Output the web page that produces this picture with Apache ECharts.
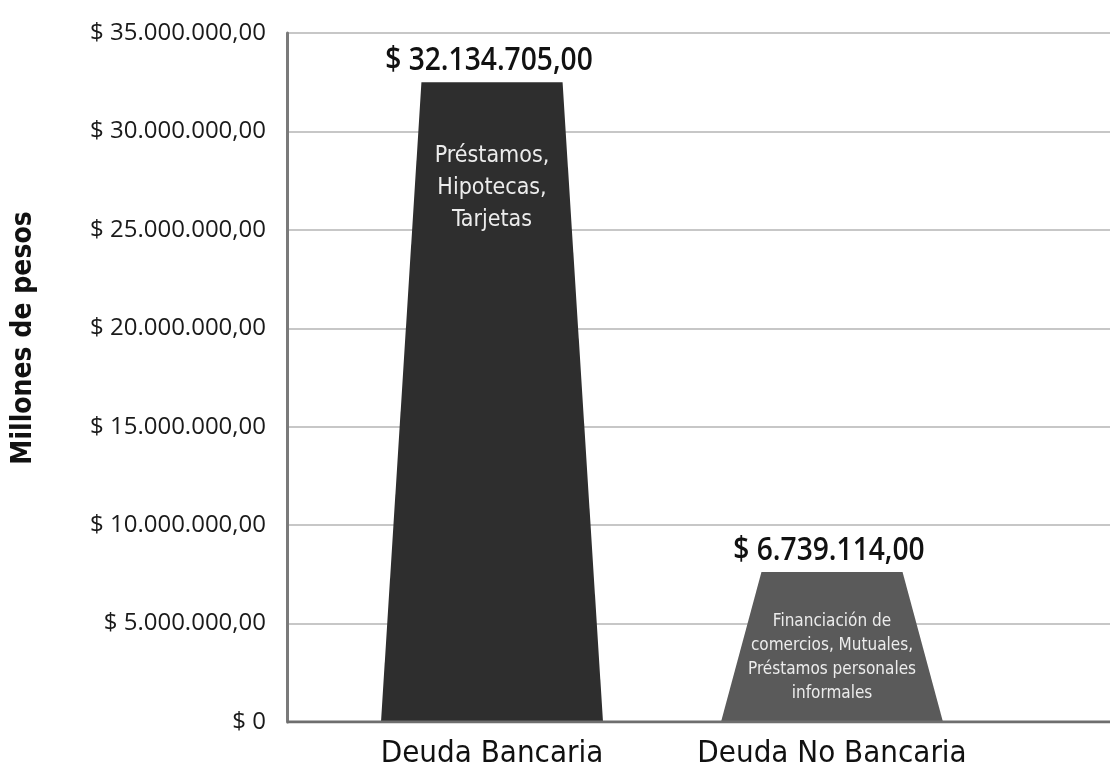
<!DOCTYPE html>
<html>
<head>
<meta charset="utf-8">
<script src="https://cdn.jsdelivr.net/npm/echarts@6/dist/echarts.min.js"></script>
<style>
  html, body { margin: 0; padding: 0; background: #fff; }
  #chart { width: 1110px; height: 774px; }
</style>
</head>
<body>
<div id="chart"></div>
<script>
// datos
const categories = ['Deuda Bancaria', 'Deuda No Bancaria'];
const barHeights = [32500000, 7620000];        // altura dibujada de cada trapecio
const statedAmounts = [32134705, 6739114];     // montos rotulados sobre cada barra
const descriptions = [
    'Préstamos,\nHipotecas,\nTarjetas',
    'Financiación de\ncomercios, Mutuales,\nPréstamos personales\ninformales'
];
const yTicks = [0, 5000000, 10000000, 15000000, 20000000, 25000000, 30000000, 35000000];
const yTitle = 'Millones de pesos';

const narrow = '"DejaVu Sans Condensed", "Open Sans", sans-serif';
const barColors = ['#2e2e2e', '#5a5a5a'];
const descFont = [
    { size: 23, lineHeight: 32, offset: 58 },
    { size: 17, lineHeight: 24, offset: 38 }
];

function money(n) {
    let s = Math.round(n).toString().replace(/\B(?=(\d{3})+(?!\d))/g, '.');
    return '$ ' + s + ',00';
}

let chart = echarts.init(document.getElementById('chart'));

let yBase = {
    min: 0,
    max: 35000000,
    interval: 5000000,
    type: 'value'
};

let option = {
    animation: false,
    grid: [
        { left: 287, right: 0, top: 33, bottom: 52 },
        { left: 322, right: 108, top: 33, bottom: 52 }
    ],
    graphic: [
        {
            type: 'text',
            x: 24,
            y: 338,
            rotation: Math.PI / 2,
            style: {
                text: yTitle,
                align: 'center',
                verticalAlign: 'middle',
                fill: '#111',
                fontFamily: narrow,
                fontWeight: 'bold',
                fontSize: 28
            }
        }
    ],
    xAxis: [
        {
            gridIndex: 0,
            type: 'value',
            min: 0,
            max: 1,
            axisLine: { show: false },
            axisTick: { show: false },
            axisLabel: { show: false },
            splitLine: { show: false }
        },
        {
            gridIndex: 1,
            type: 'category',
            data: categories,
            axisLine: { show: false },
            axisTick: { show: false },
            axisLabel: {
                interval: 0,
                margin: 16,
                color: '#111',
                fontFamily: narrow,
                fontSize: 31
            }
        }
    ],
    yAxis: [
        {
            ...yBase,
            gridIndex: 0,
            axisLine: { show: true, lineStyle: { color: '#7a7a7a', width: 3 } },
            axisTick: { show: false },
            splitLine: { show: true, lineStyle: { color: '#b4b4b4', width: 1.5 } },
            axisLabel: {
                margin: 21,
                color: '#1a1a1a',
                fontFamily: '"Open Sans", sans-serif',
                fontSize: 24,
                formatter: function (value) {
                    if (yTicks.indexOf(value) < 0) return '';
                    return value === 0 ? '$ 0' : money(value);
                }
            }
        },
        {
            ...yBase,
            gridIndex: 1,
            show: false
        }
    ],
    series: [
        {
            // linea base
            type: 'line',
            xAxisIndex: 0,
            yAxisIndex: 0,
            data: [[0, 0], [1, 0]],
            symbol: 'none',
            lineStyle: { color: '#6e6e6e', width: 3 },
            silent: true
        },
        {
            type: 'custom',
            xAxisIndex: 1,
            yAxisIndex: 1,
            data: categories.map((c, i) => [i, barHeights[i]]),
            renderItem: function (params, api) {
                let idx = api.value(0);
                let top = api.coord([idx, api.value(1)]);
                let base = api.coord([idx, 0]);
                let band = api.size([1, 0])[0];
                let tw = band * 0.415 / 2;
                let bw = band * 0.653 / 2;
                let d = descFont[idx];
                return {
                    type: 'group',
                    children: [
                        {
                            type: 'polygon',
                            shape: {
                                points: [
                                    [base[0] - bw, base[1]],
                                    [top[0] - tw, top[1]],
                                    [top[0] + tw, top[1]],
                                    [base[0] + bw, base[1]]
                                ]
                            },
                            style: { fill: barColors[idx] }
                        },
                        {
                            type: 'text',
                            x: top[0] - 3,
                            y: top[1] - 5,
                            scaleX: 0.88,
                            style: {
                                text: money(statedAmounts[idx]),
                                align: 'center',
                                verticalAlign: 'bottom',
                                fill: '#111',
                                fontFamily: '"Open Sans", sans-serif',
                                fontWeight: 600,
                                fontSize: 32
                            }
                        },
                        {
                            type: 'text',
                            x: top[0],
                            y: top[1] + d.offset,
                            style: {
                                text: descriptions[idx],
                                align: 'center',
                                verticalAlign: 'top',
                                fill: '#ececec',
                                fontFamily: narrow,
                                fontSize: d.size,
                                lineHeight: d.lineHeight
                            }
                        }
                    ]
                };
            }
        }
    ]
};

chart.setOption(option);
</script>
</body>
</html>
